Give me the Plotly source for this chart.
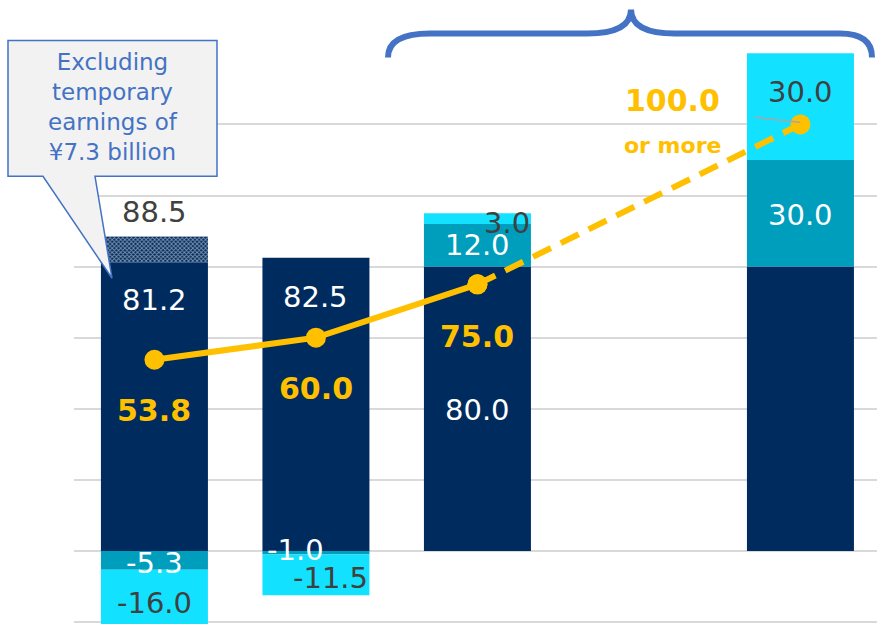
import plotly.graph_objects as go

# ---- data ----
positions = [0, 1, 2, 3, 4]            # 4th slot intentionally empty
navy_vals = [81.2, 82.5, 80.0, None, 80.0]
teal_vals = [-5.3, -1.0, 12.0, None, 30.0]
cyan_vals = [-16.0, -11.5, 3.0, None, 30.0]
temp_vals = [7.3, None, None, None, None]   # temporary earnings (hatched)

line_x_solid = [0, 1, 2]
line_y_solid = [53.8, 60.0, 75.0]
line_x_dash = [2, 4]
line_y_dash = [75.0, 120.0]                 # target point drawn at this height
line_labels = ["53.8", "60.0", "75.0", "100.0"]

NAVY = "#002B5F"
TEAL = "#009EBD"
CYAN = "#12E2FF"
YELLOW = "#FFC000"
BLUE = "#4472C4"
DARK = "#404040"

fig = go.Figure()
bw = 0.6625
fig.add_bar(x=positions, y=navy_vals, marker_color=NAVY, width=bw, marker_line_width=0)
fig.add_bar(x=positions, y=teal_vals, marker_color=TEAL, width=bw, marker_line_width=0)
fig.add_bar(x=positions, y=cyan_vals, marker_color=CYAN, width=bw, marker_line_width=0)
fig.add_bar(x=positions, y=temp_vals, width=bw, marker_line_width=0,
            marker=dict(color=NAVY,
                        pattern=dict(shape="x", fgcolor="white", bgcolor=NAVY,
                                     size=3, solidity=0.5)))

fig.add_scatter(x=line_x_solid, y=line_y_solid, mode="lines+markers",
                line=dict(color=YELLOW, width=6),
                marker=dict(size=20, color=YELLOW))
fig.add_scatter(x=line_x_dash, y=line_y_dash, mode="lines+markers",
                line=dict(color=YELLOW, width=6, dash="20px,11px"),
                marker=dict(size=20, color=YELLOW))

# ---- layout geometry ----
W, H = 877, 624
L, T = 74, 52.6
plot_w = W - L
plot_h = H - T
yr = [-20.56, 140.1]
xr = [-0.498, 4.474]


def px(xp, yp):
    return ((xp - L) / plot_w, (H - yp) / plot_h)


def path(points, close=False):
    parts = []
    for cmd, pts in points:
        parts.append(cmd + " " + " ".join(f"{px(a, b)[0]:.5f},{px(a, b)[1]:.5f}" for a, b in pts))
    s = " ".join(parts)
    if close:
        s += " Z"
    return s


shapes = []
# brace
brace = path([("M", [(388, 57)]), ("Q", [(388, 33), (430, 33)]), ("L", [(587, 33)]),
              ("Q", [(631, 33), (631, 9)]), ("Q", [(631, 33), (675, 33)]),
              ("L", [(840, 33)]), ("Q", [(872, 33), (872, 57)])])
shapes.append(dict(type="path", xref="paper", yref="paper", path=brace,
                   line=dict(color=BLUE, width=6), layer="above"))
# callout
callout_pts = [(217, 40), (217, 176), (95, 176), (112, 278), (43, 176), (8, 176)]
callout = path([("M", [(8, 40)])] + [("L", [p]) for p in callout_pts], close=True)
shapes.append(dict(type="path", xref="paper", yref="paper", path=callout,
                   fillcolor="#F2F2F2", line=dict(color=BLUE, width=1.5), layer="above"))
# small leader line near the 100 point
x0p, y0p = px(755, 117)
x1p, y1p = px(800, 122)
shapes.append(dict(type="line", xref="paper", yref="paper", x0=x0p, y0=y0p, x1=x1p, y1=y1p,
                   line=dict(color="#A6A6A6", width=1.5), layer="above"))

annotations = []


def lab(x, y, text, color, size=29, bold=False):
    annotations.append(dict(x=x, y=y, xref="x", yref="y", text=(f"<b>{text}</b>" if bold else text),
                            showarrow=False, font=dict(color=color, size=size,
                                                        family="DejaVu Sans"),
                            xanchor="center", yanchor="middle"))


lab(0, 95.3, "88.5", DARK)
lab(0, 70.6, "81.2", "white")
lab(0, -3.4, "-5.3", "white")
lab(0, -14.6, "-16.0", DARK)
lab(1, 71.4, "82.5", "white")
lab(0.876, 0.3, "-1.0", "white")
lab(1.093, -7.6, "-11.5", DARK)
lab(2, 86.0, "12.0", "white")
lab(2.186, 92.2, "3.0", DARK)
lab(2, 39.6, "80.0", "white")
lab(4, 94.5, "30.0", "white")
lab(4, 129.0, "30.0", DARK)

lab(0, 39.6, line_labels[0], YELLOW, size=30, bold=True)
lab(1, 45.8, line_labels[1], YELLOW, size=30, bold=True)
lab(2, 60.2, line_labels[2], YELLOW, size=30, bold=True)
lab(3.21, 126.8, line_labels[3], YELLOW, size=30, bold=True)
lab(3.21, 114.1, "or more", YELLOW, size=22, bold=True)

cx, cy = px(112.5, 107)
annotations.append(dict(x=cx, y=cy, xref="paper", yref="paper",
                        text="Excluding<br>temporary<br>earnings of<br>¥7.3 billion",
                        showarrow=False, align="center",
                        font=dict(color=BLUE, size=23, family="DejaVu Sans"),
                        xanchor="center", yanchor="middle"))

fig.update_layout(
    width=W, height=H,
    margin=dict(l=L, r=0, t=T, b=0),
    barmode="relative",
    showlegend=False,
    paper_bgcolor="white", plot_bgcolor="white",
    xaxis=dict(range=xr, showgrid=False, showticklabels=False, zeroline=False,
               showline=False, ticks=""),
    yaxis=dict(range=yr, showgrid=True, gridcolor="#D9D9D9", gridwidth=2,
               tick0=0, dtick=20, showticklabels=False, zeroline=False,
               showline=False, ticks=""),
    shapes=shapes,
    annotations=annotations,
)

fig.write_html("out.html")
